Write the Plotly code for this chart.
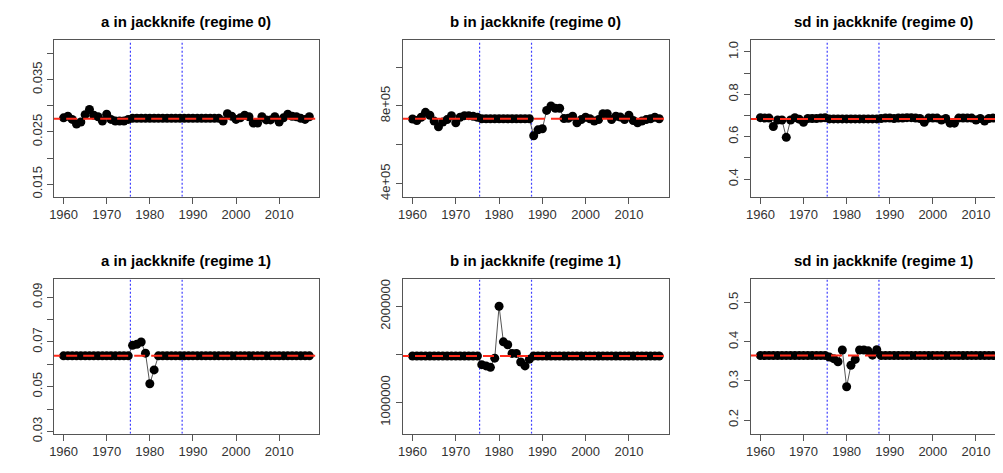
import plotly.graph_objects as go

years = list(range(1960, 2018))

a0 = ([0.0277, 0.0280, 0.0274, 0.0265, 0.0269, 0.0283, 0.0293, 0.0282, 0.0279, 0.0271,
       0.0284, 0.0274, 0.0271, 0.0271, 0.0271, 0.0274] + [0.0276] * 21 +
      [0.0271, 0.0285, 0.0280, 0.0274, 0.0277, 0.0282, 0.0279, 0.0267, 0.0267, 0.0279,
       0.0273, 0.0273, 0.0279, 0.0269, 0.0277, 0.0284, 0.0280, 0.0279, 0.0276, 0.0274, 0.0279])
b0 = ([733000, 725000, 742000, 767000, 752000, 722000, 693000, 717000, 730000, 750000,
       713000, 742000, 750000, 750000, 747000, 742000] + [734000] * 12 +
      [647000, 677000, 683000, 777000, 800000, 788000, 788000, 735000, 737000, 747000,
       713000, 730000, 742000, 734000, 722000, 730000, 760000, 760000, 730000, 747000,
       743000, 730000, 752000, 725000, 713000, 722000, 730000, 734000, 742000, 734000])
sd0 = ([0.690, 0.688, 0.688, 0.648, 0.679, 0.679, 0.597, 0.679, 0.690, 0.683,
        0.668, 0.686, 0.686, 0.686, 0.688, 0.690] + [0.684] * 12 +
       [0.686, 0.688, 0.688, 0.686, 0.688, 0.688, 0.690, 0.690, 0.688, 0.686,
        0.668, 0.688, 0.688, 0.688, 0.679, 0.686, 0.664, 0.664, 0.688, 0.688,
        0.688, 0.688, 0.679, 0.686, 0.674, 0.686, 0.688, 0.688, 0.688, 0.688])
a1 = [0.0638] * 16 + [0.0685, 0.0690, 0.0700, 0.0650, 0.0513, 0.0575] + [0.0638] * 36
b1 = [1483000] * 16 + [1393000, 1380000, 1365000, 1460000, 2000000, 1630000,
                       1600000, 1510000, 1510000, 1420000, 1380000, 1450000] + [1483000] * 30
sd1 = [0.365] * 16 + [0.361, 0.357, 0.349, 0.379, 0.285, 0.340,
                      0.355, 0.379, 0.379, 0.377, 0.366, 0.380] + [0.365] * 30

centers = [0.0275, 734000, 0.684, 0.0638, 1483000, 0.365]
titles = ["a in jackknife (regime 0)", "b in jackknife (regime 0)", "sd in jackknife (regime 0)",
          "a in jackknife (regime 1)", "b in jackknife (regime 1)", "sd in jackknife (regime 1)"]
yranges = [[0.0126, 0.0425], [333000, 1137000], [0.317, 1.054],
           [0.029, 0.098], [675000, 2280000], [0.165, 0.56]]
ytickvals = [[0.015, 0.02, 0.025, 0.03, 0.035, 0.04],
             [400000, 600000, 800000, 1000000],
             [0.4, 0.5, 0.6, 0.7, 0.8, 0.9, 1.0],
             [0.03, 0.04, 0.05, 0.06, 0.07, 0.08, 0.09],
             [1000000, 1500000, 2000000],
             [0.2, 0.3, 0.4, 0.5]]
yticktext = [["0.015", "", "0.025", "", "0.035", ""],
             ["4e+05", "", "8e+05", ""],
             ["0.4", "", "0.6", "", "0.8", "", "1.0"],
             ["0.03", "", "0.05", "", "0.07", "", "0.09"],
             ["1000000", "", "2000000"],
             ["0.2", "0.3", "0.4", "0.5"]]
series = [a0, b0, sd0, a1, b1, sd1]
breaks = [1975.5, 1987.5]

W, H = 1003, 473
xpix = [(41, 308), (392, 660), (742, 1003)]
ypix = [(33, 192), (276, 433)]
xranges = [[1957.72, 2019.28], [1957.72, 2019.28], [1957.72, 1957.72 + 261 / (267 / 61.56)]]

fig = go.Figure()
font = "Liberation Sans, Arial, sans-serif"
for i in range(6):
    r, c = divmod(i, 3)
    n = i + 1
    xa = "x" if n == 1 else f"x{n}"
    ya = "y" if n == 1 else f"y{n}"
    for b in breaks:
        fig.add_trace(go.Scatter(x=[b, b], y=yranges[i], mode="lines", xaxis=xa, yaxis=ya,
                                 line=dict(color="#3f3fff", width=1.2, dash="2px,2px"),
                                 showlegend=False, hoverinfo="skip"))
    fig.add_trace(go.Scatter(x=years, y=series[i], mode="lines+markers", xaxis=xa, yaxis=ya,
                             line=dict(color="#555555", width=1),
                             marker=dict(color="black", size=9), showlegend=False))
    fig.add_trace(go.Scatter(x=[xranges[c][0] - 5, 2030], y=[centers[i]] * 2, mode="lines",
                             xaxis=xa, yaxis=ya, line=dict(color="#ff2a1a", width=2, dash="11px,6px"),
                             showlegend=False))
    x0, x1 = xpix[c]
    y0, y1 = ypix[r]
    dom_x = [x0 / W, min(x1 / W, 1)]
    dom_y = [(H - y1) / H, (H - y0) / H]
    common = dict(showline=True, linecolor="#555555", linewidth=1, mirror=True, ticks="outside",
                  ticklen=6, tickcolor="#555555", showgrid=False, zeroline=False,
                  tickfont=dict(family=font, size=13, color="#333333"))
    fig.update_layout(**{
        ("xaxis" if n == 1 else f"xaxis{n}"): dict(domain=dom_x, range=xranges[c], anchor=ya,
                                                  tickvals=[1960, 1970, 1980, 1990, 2000, 2010], **common),
        ("yaxis" if n == 1 else f"yaxis{n}"): dict(domain=dom_y, range=yranges[i], anchor=xa,
                                                  tickvals=ytickvals[i], ticktext=yticktext[i],
                                                  tickangle=-90, **common),
    })
    xc = (x0 + (x1 if c < 2 else 1010)) / 2 / W
    fig.add_annotation(text=f"<b>{titles[i]}</b>", x=xc, xanchor="center", yanchor="middle",
                       y=(H - y0 + 19) / H, xref="paper", yref="paper", showarrow=False,
                       font=dict(family=font, size=15, color="black"))

fig.update_layout(width=W, height=H, margin=dict(l=0, r=0, t=0, b=0),
                  plot_bgcolor="white", paper_bgcolor="white")
fig.write_html("out.html")
